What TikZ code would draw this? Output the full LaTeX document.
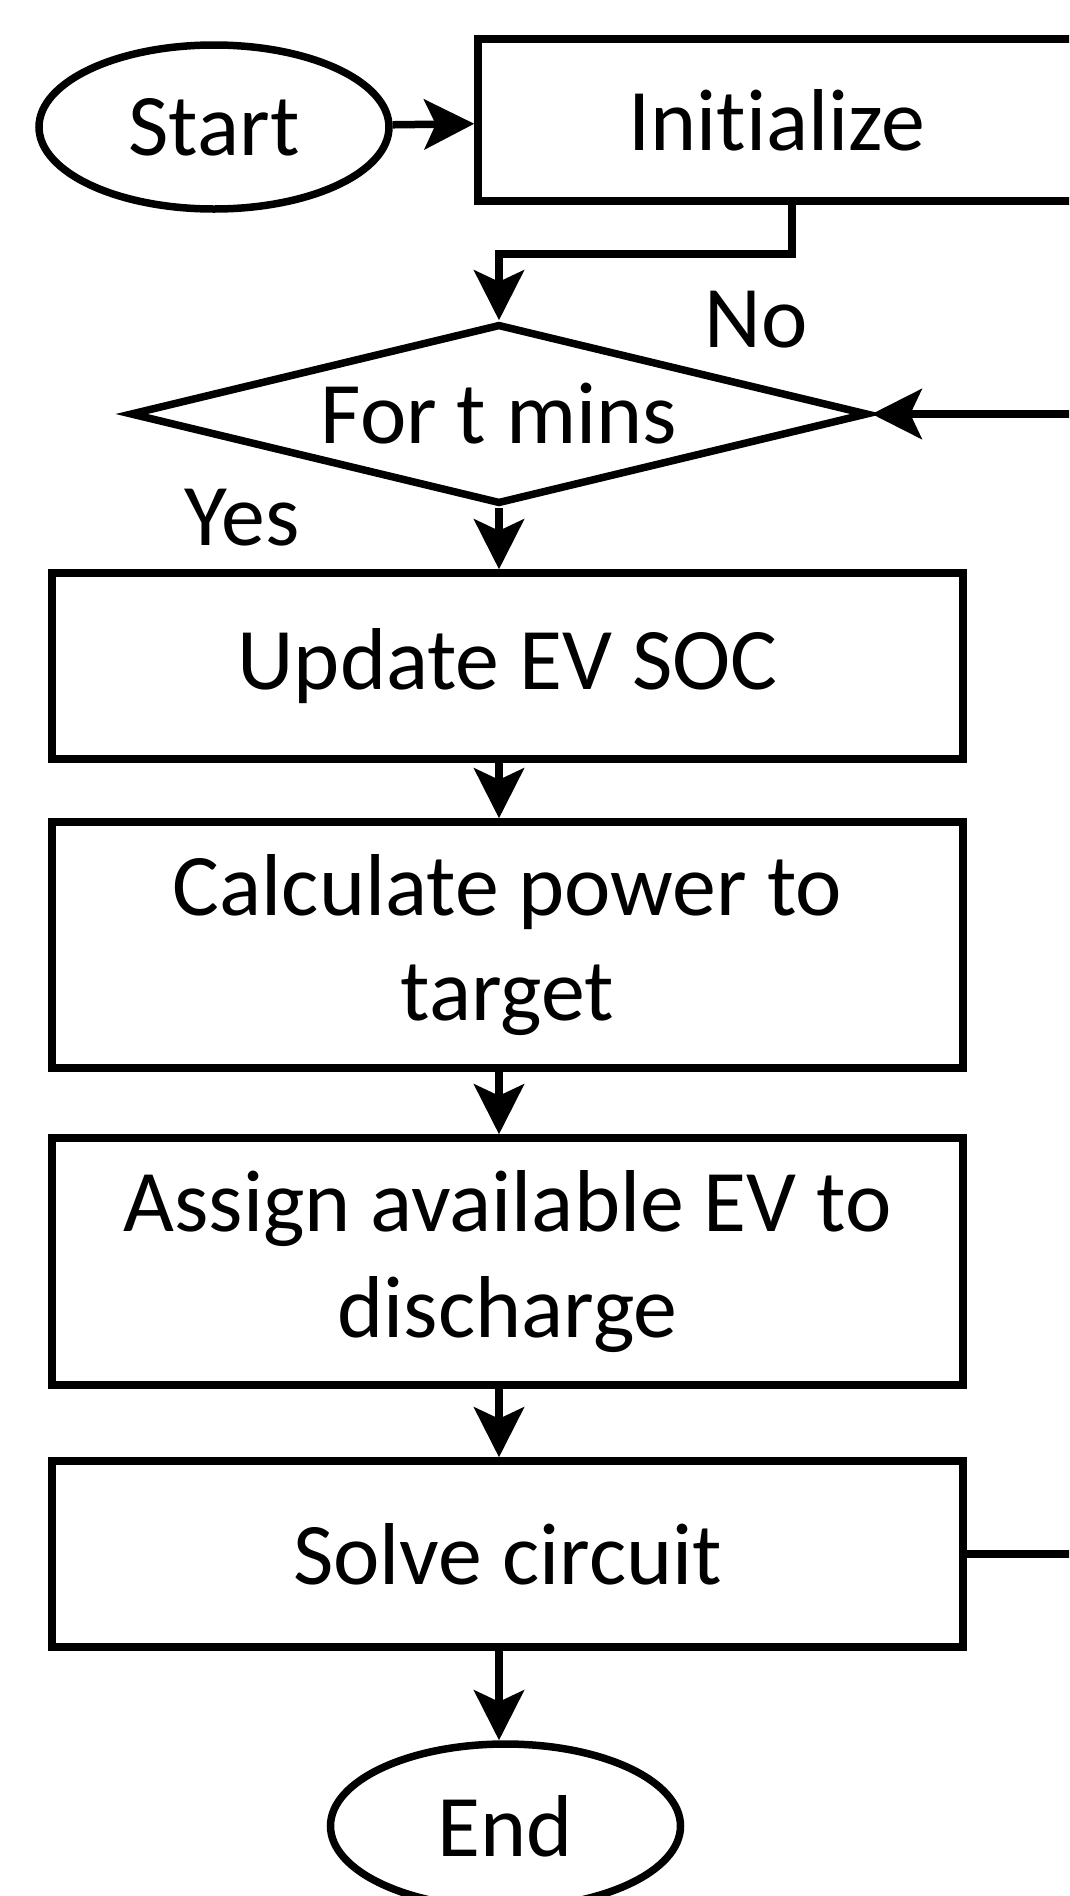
\documentclass[tikz,border=0pt]{standalone}
\usepackage{fontspec}
\setmainfont{Carlito}[Ligatures=NoCommon]
\usetikzlibrary{shapes.geometric, arrows.meta}
\tikzset{>={Stealth[length=1cm, width=1cm, inset=2.3mm]}}
\tikzset{
  every node/.style={font=\fontsize{50}{60}\selectfont},
  box/.style={draw, rectangle, line width=1.5mm, align=center, minimum width=18.22cm},
  term/.style={draw, ellipse, line width=1.5mm, minimum width=7cm, minimum height=3.28cm},
  cond/.style={draw, diamond, aspect=4.1, line width=1.5mm, minimum width=14.76cm, minimum height=3.6cm, inner sep=0pt},
  flow/.style={->, line width=1.5mm}
}

\begin{document}
\begin{tikzpicture}
    \useasboundingbox (0,0) rectangle (21.38,-37.92);
    \clip (0,0) rectangle (21.38,-37.92);
    \node[term] (start) at (4.28,-2.54) {Start};
    \node[box, minimum width=11.96cm, minimum height=3.24cm] (init) at (15.54,-2.4) {Initialize};
    \node[cond] (fort) at (9.98,-8.28) {For t mins};
    \node[box, minimum height=3.72cm] (upd) at (10.15,-13.32) {Update EV SOC};
    \node[box, minimum height=4.92cm] (calc) at (10.15,-18.9) {Calculate power to\\target};
    \node[box, minimum height=4.94cm] (assign) at (10.15,-25.23) {Assign available EV to\\discharge};
    \node[box, minimum height=3.72cm] (solve) at (10.15,-31.08) {Solve circuit};
    \node[term] (end) at (10.11,-36.52) {End};
    \node (no) at (15.12,-6.4) {No};
    \node (yes) at (4.84,-10.36) {Yes};
    \coordinate (turn) at (15.84,-5.08);
    \coordinate (back) at (23,-31.08);

    \draw[flow] (start) -- (init);
    \draw[flow] (init.south -| turn) -- (turn) -| (fort.north);
    \draw[flow] (fort.south) -- (fort.south |- upd.north);
    \draw[flow] (fort.south |- upd.south) -- (fort.south |- calc.north);
    \draw[flow] (fort.south |- calc.south) -- (fort.south |- assign.north);
    \draw[flow] (fort.south |- assign.south) -- (fort.south |- solve.north);
    \draw[flow] (fort.south |- solve.south) -- (end.north -| fort.south);
    \draw[flow] (solve.east) -- (back) |- (fort.east);
\end{tikzpicture}
\end{document}
